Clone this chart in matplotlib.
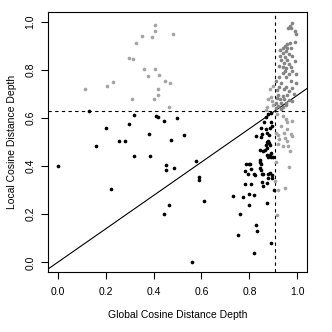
import matplotlib
matplotlib.use("Agg")
import matplotlib.pyplot as plt

# global / local depth, split by the quadrant the point falls in
black_x = [0.133, 0.317, 0.410, 0.417, 0.442, 0.496, 0.200, 0.296, 0.257, 0.281, 0.382, 0.528,
           0.472, 0.161, 0.318, 0.386, 0.577, 0.454, 0.454, 0.485, 0.000, 0.588, 0.588, 0.221,
           0.611, 0.464, 0.442, 0.559,
           0.731, 0.774, 0.797, 0.818, 0.800, 0.872, 0.760, 0.827, 0.832, 0.754, 0.892, 0.821,
           0.782, 0.807, 0.852, 0.857, 0.875,
           0.785, 0.797, 0.803, 0.782, 0.792, 0.807, 0.820, 0.825, 0.852, 0.858, 0.878, 0.878,
           0.886, 0.896, 0.896, 0.902,
           0.845, 0.849, 0.843, 0.845, 0.847, 0.843, 0.858, 0.864,
           0.868, 0.875, 0.881, 0.886, 0.872, 0.886, 0.879, 0.889, 0.892, 0.897,
           0.829, 0.847, 0.854, 0.872, 0.882, 0.879, 0.875,
           0.878, 0.892, 0.871, 0.861, 0.889, 0.847, 0.868, 0.885, 0.896]
black_y = [0.627, 0.612, 0.610, 0.605, 0.588, 0.599, 0.558, 0.576, 0.505, 0.505, 0.534, 0.531,
           0.508, 0.484, 0.440, 0.440, 0.419, 0.405, 0.385, 0.392, 0.400, 0.354, 0.343, 0.306,
           0.255, 0.238, 0.202, 0.002,
           0.275, 0.273, 0.284, 0.281, 0.238, 0.248, 0.202, 0.155, 0.131, 0.112, 0.080, 0.039,
           0.325, 0.327, 0.334, 0.318, 0.328,
           0.410, 0.407, 0.409, 0.378, 0.369, 0.389, 0.365, 0.363, 0.365, 0.365, 0.365, 0.349,
           0.372, 0.363, 0.350, 0.302,
           0.393, 0.383, 0.425, 0.417, 0.407, 0.468, 0.464, 0.468,
           0.486, 0.477, 0.494, 0.486, 0.447, 0.447, 0.436, 0.436, 0.454, 0.436,
           0.526, 0.522, 0.533, 0.539, 0.530, 0.505, 0.498,
           0.616, 0.622, 0.602, 0.581, 0.581, 0.560, 0.556, 0.560, 0.567]

light_x = [0.408, 0.408, 0.483, 0.353, 0.395, 0.327, 0.297, 0.315, 0.360, 0.406, 0.421, 0.379,
           0.232, 0.208, 0.446, 0.467, 0.113, 0.417, 0.418, 0.311, 0.404, 0.464,
           0.885, 0.899, 0.879, 0.889, 0.896, 0.875, 0.900, 0.871,
           0.910, 0.920, 0.924, 0.920, 0.947, 0.977, 0.958, 0.961, 0.971, 0.965, 0.910, 0.906,
           0.918, 0.947, 0.915, 0.917, 0.938, 0.952, 0.958, 0.979, 0.931, 0.958, 0.945, 0.972,
           0.938]
light_y = [0.985, 0.963, 0.949, 0.941, 0.938, 0.910, 0.847, 0.844, 0.804, 0.804, 0.779, 0.773,
           0.751, 0.732, 0.753, 0.746, 0.722, 0.721, 0.695, 0.678, 0.678, 0.646,
           0.719, 0.733, 0.678, 0.685, 0.671, 0.646, 0.654, 0.632,
           0.539, 0.530, 0.512, 0.491, 0.516, 0.523, 0.505, 0.484, 0.461, 0.398, 0.415, 0.339,
           0.302, 0.311, 0.197, 0.616, 0.609, 0.595, 0.581, 0.588, 0.567, 0.553, 0.539, 0.533,
           0.484]

dark_x = [0.979, 0.968, 0.961, 0.972, 0.990, 0.993, 0.956, 0.968, 0.949, 0.938, 0.958, 0.974,
          0.990, 0.928, 0.938, 0.952, 0.963, 0.927, 0.949, 0.977, 0.931, 0.958, 0.945, 0.965,
          0.990, 0.924, 0.940, 0.954, 0.974, 0.949, 0.979, 0.938, 0.965, 0.993, 0.924, 0.954,
          0.910, 0.931, 0.972, 0.996, 0.924, 0.952, 0.979, 0.917, 0.945, 0.965, 0.921, 0.938,
          0.958, 0.986, 0.913, 0.927, 0.945, 0.965, 0.931, 0.952, 0.910, 0.979, 0.921, 0.940,
          0.910, 0.931, 0.952]
dark_y = [0.996, 0.982, 0.975, 0.975, 0.961, 0.950, 0.909, 0.913, 0.899, 0.892, 0.892, 0.892,
          0.917, 0.881, 0.869, 0.878, 0.865, 0.858, 0.851, 0.858, 0.840, 0.840, 0.830, 0.823,
          0.837, 0.816, 0.812, 0.809, 0.812, 0.795, 0.795, 0.786, 0.782, 0.784, 0.768, 0.771,
          0.754, 0.747, 0.754, 0.747, 0.729, 0.729, 0.724, 0.715, 0.719, 0.710, 0.696, 0.692,
          0.696, 0.701, 0.682, 0.678, 0.678, 0.674, 0.664, 0.664, 0.664, 0.671, 0.650, 0.646,
          0.643, 0.637, 0.654]

x_cut = 0.906
y_cut = 0.629
ticks = [0.0, 0.2, 0.4, 0.6, 0.8, 1.0]

plt.rcParams["font.family"] = ["Liberation Sans", "DejaVu Sans"]

fig = plt.figure(figsize=(3.32, 3.32), dpi=100)
ax = fig.add_axes([0.1446, 0.1807, 0.78, 0.7832])

ax.scatter(black_x, black_y, s=7, c="black", linewidths=0, zorder=3)
ax.scatter(light_x, light_y, s=7, c="#a4a4a4", linewidths=0, zorder=3)
ax.scatter(dark_x, dark_y, s=7, c="#858585", linewidths=0, zorder=3)

ax.axvline(x_cut, color="black", lw=0.8, ls=(0, (3, 3)))
ax.axhline(y_cut, color="black", lw=0.8, ls=(0, (3, 3)))
ax.axline((0, 0), slope=y_cut / x_cut, color="black", lw=0.8)

ax.set_xlim(-0.04, 1.04)
ax.set_ylim(-0.04, 1.04)
ax.set_xticks(ticks)
ax.set_yticks(ticks)
ax.set_xticklabels([f"{t:.1f}" for t in ticks])
ax.set_yticklabels([f"{t:.1f}" for t in ticks], rotation=90, va="center")
ax.tick_params(direction="out", length=5, width=0.8, labelsize=7.5)
ax.tick_params(axis="x", pad=6)
ax.tick_params(axis="y", pad=4)
for s in ax.spines.values():
    s.set_linewidth(0.8)

ax.set_xlabel("Global Cosine Distance Depth", fontsize=7.5, labelpad=9)
ax.set_ylabel("Local Cosine Distance Depth", fontsize=7.5, labelpad=6)

fig.savefig("out.png", dpi=100)
